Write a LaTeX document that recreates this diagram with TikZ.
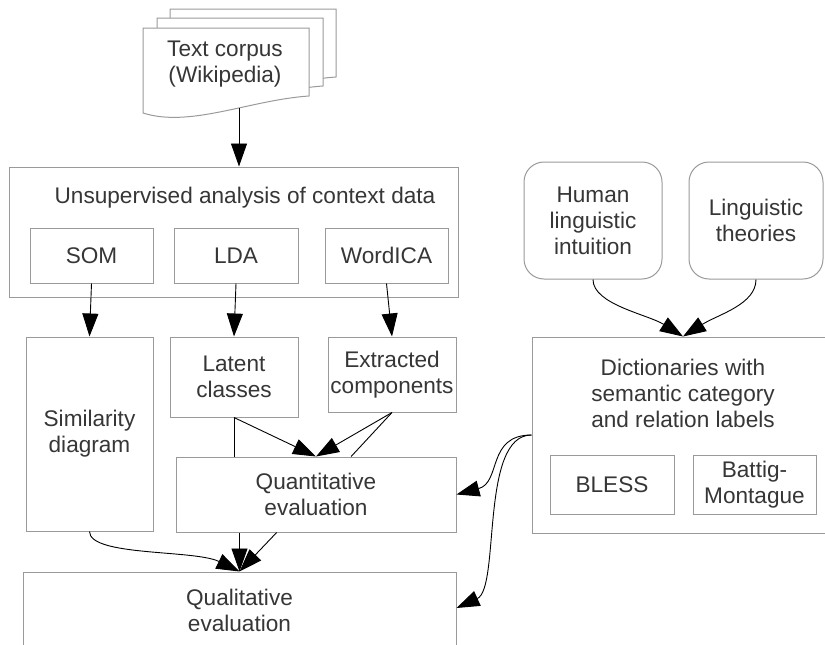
\documentclass[tikz,border=0pt]{standalone}
\usepackage{fontspec}
\setmainfont{Liberation Sans}
\usetikzlibrary{arrows.meta,calc}
\definecolor{boxgray}{HTML}{9A9A9A}
\definecolor{inkgray}{HTML}{363636}
\begin{document}
\begin{tikzpicture}[x=1pt,y=-1pt,
  lbl/.style={font=\fontsize{22.6}{26}\selectfont, text=inkgray, align=center, inner sep=0pt},
  box/.style={lbl, draw=boxgray, line width=1pt, rectangle, fill=white},
  rbox/.style={box, rounded corners=20pt},
  arr/.style={draw=black, line width=0.9pt, -{Triangle[length=23pt,width=16pt]}},
  ln/.style={draw=black, line width=0.9pt},
  docsheet/.style={draw=boxgray, line width=1pt, fill=white}]
\useasboundingbox (0,0) rectangle (825,645);
\clip (0,0) rectangle (825,645);

% stacked document sheets (back to front)
\foreach \dx/\dy in {27/-19, 14/-10, 0/0} {
  \begin{scope}[shift={(\dx,\dy)}]
    \filldraw[docsheet] (143,113) -- (143,28) -- (309,28) -- (309,96)
      .. controls (250,100) and (190,128) .. (143,113) -- cycle;
  \end{scope}
}
\node[lbl] (corpus) at (225,64) {Text corpus\\(Wikipedia)};
\coordinate (corpusfoot) at (239,108);

% unsupervised analysis block
\node[box, minimum width=449pt, minimum height=130pt] (una) at (233.5,232) {};
\node[lbl] (unatitle) at (245,198) {Unsupervised analysis of context data};
\node[box, minimum width=123pt, minimum height=55pt] (som) at (91.5,255.5) {SOM};
\node[box, minimum width=124pt, minimum height=55pt] (lda) at (236,255.5) {LDA};
\node[box, minimum width=123pt, minimum height=55pt] (wica) at (386.5,255.5) {WordICA};

% results
\node[box, minimum width=127pt, minimum height=194pt] (sim) at (89.5,434) {Similarity\\diagram};
\node[box, minimum width=128pt, minimum height=80pt] (lat) at (234,377) {Latent\\classes};
\node[box, minimum width=128pt, minimum height=75pt] (ext) at (392,374.5) {Extracted\\components};
\node[box, minimum width=280pt, minimum height=75pt] (quant) at (316,494.5) {Quantitative\\evaluation};
\node[box, minimum width=433pt, minimum height=76pt] (qual) at (239.5,610) {Qualitative\\evaluation};

% knowledge sources
\node[rbox, minimum width=138pt, minimum height=117pt] (human) at (593,220.5) {Human\\linguistic\\intuition};
\node[rbox, minimum width=134pt, minimum height=117pt] (ling) at (756,220.5) {Linguistic\\theories};
\node[box, minimum width=302pt, minimum height=196pt] (dict) at (683,435) {};
\node[lbl] (dicttitle) at (683,393) {Dictionaries with\\semantic category\\and relation labels};
\node[box, minimum width=124pt, minimum height=59pt] (bless) at (612,484.5) {BLESS};
\node[box, minimum width=123pt, minimum height=59pt] (battig) at (754.5,484.5) {Battig-\\Montague};

% connectors
\draw[arr] (corpusfoot) -- (corpusfoot |- una.north);
\draw[arr] (som.south) -- (sim.north);
\draw[arr] (lda.south) -- (lat.north);
\draw[arr] (wica.south) -- (ext.north);

\draw[ln] (lat.south) -- (lat.south |- quant.north);
\draw[arr] (lat.south) -- (quant.north);
\draw[arr] (ext.south) -- (quant.north);
\draw[ln] (ext.south) -- ($(quant.north)!0.25!(quant.north east)$);

\coordinate (quantfootA) at (qual.north |- quant.south);
\coordinate (quantfootB) at ($(quant.south west)!0.36!(quant.south east)$);
\draw[arr] (quantfootA) -- (qual.north);
\draw[arr] (quantfootB) -- (qual.north);
\draw[arr] (sim.south) .. controls +(0,25) and +(-45,-22) .. (qual.north);

\draw[arr] (human.south) .. controls +(0,25) and +(-35,-22) .. (dict.north);
\draw[arr] (ling.south) .. controls +(0,25) and +(35,-22) .. (dict.north);

\coordinate (qualin) at ($(qual.east)+(0,-2)$);
\draw[arr] (dict.west) .. controls +(-45,0) and +(45,-12) .. (quant.east);
\draw[arr] (dict.west) .. controls +(-52,0) and +(44,-20) .. (qualin);
\end{tikzpicture}
\end{document}
